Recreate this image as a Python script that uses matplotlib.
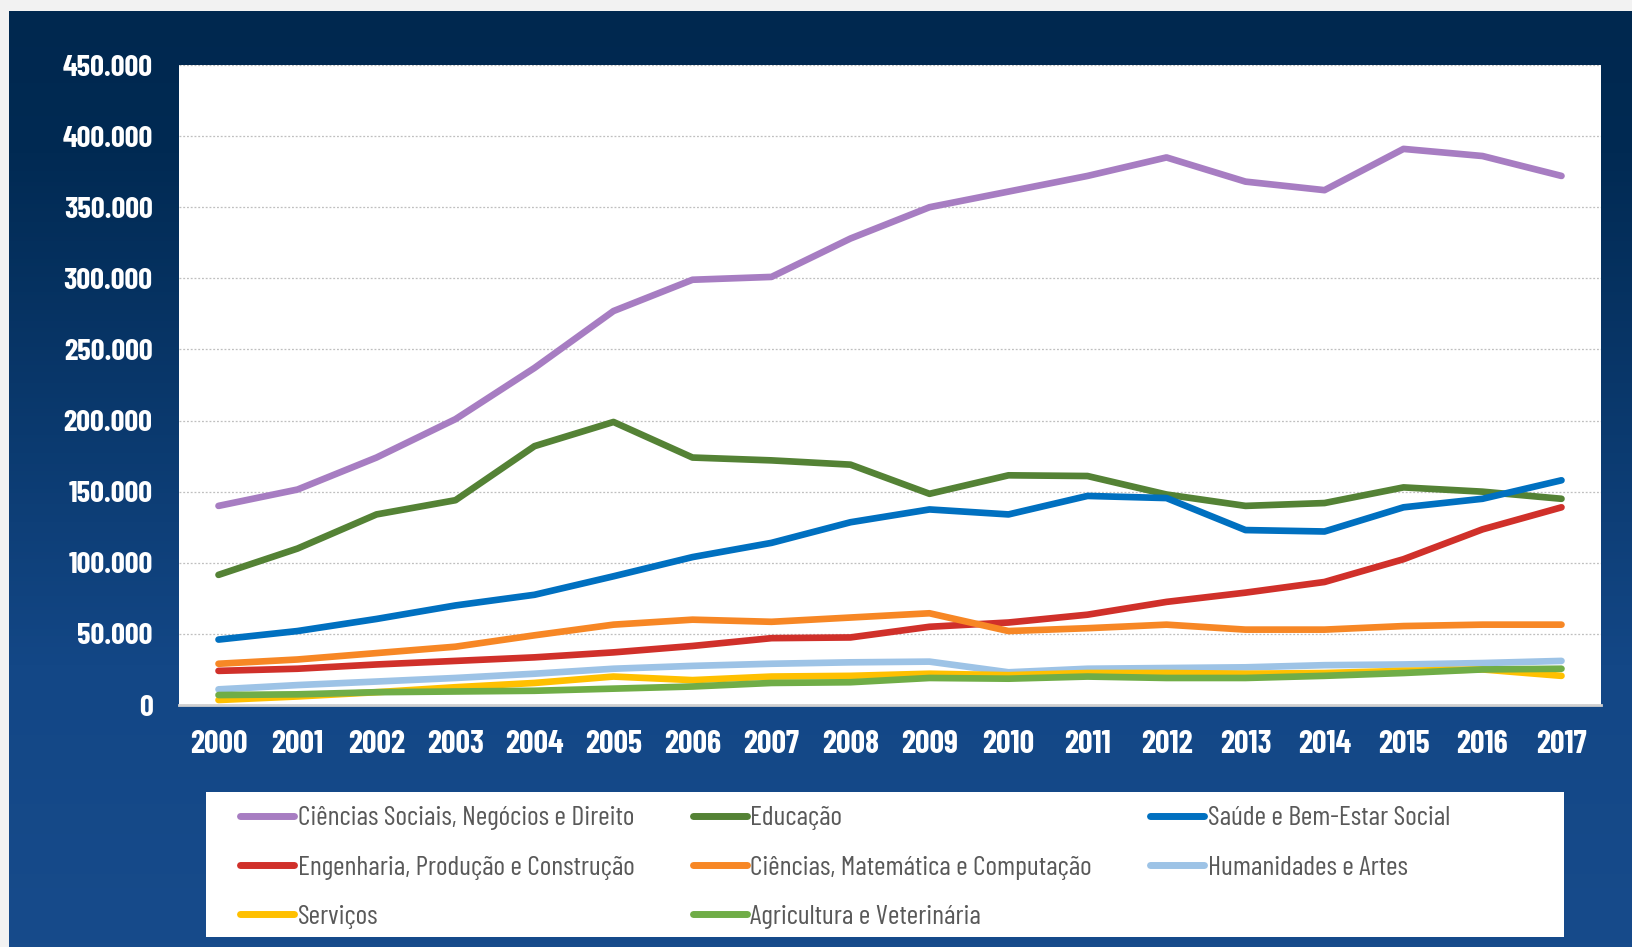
import matplotlib.pyplot as plt
import numpy as np
from matplotlib.colors import LinearSegmentedColormap
from matplotlib.patches import Rectangle
from matplotlib.ticker import FuncFormatter

# data
anos = [str(a) for a in range(2000, 2018)]

ciencias_sociais = [140000, 151500, 174000, 201000, 237000, 277000, 299000, 301000, 328000,
                    350000, 361000, 372000, 385000, 368000, 362000, 391000, 386000, 372000]
educacao = [91500, 110000, 134000, 144000, 182000, 199000, 174000, 172000, 169000,
            148500, 161500, 161000, 148000, 140000, 142000, 153000, 150000, 145000]
saude = [46000, 52000, 60500, 70000, 77500, 90500, 104000, 114000, 128500,
         137500, 134000, 147000, 145500, 123000, 122000, 139000, 145000, 158000]
engenharia = [24000, 25500, 28500, 31000, 33500, 37000, 41500, 47000, 47500,
              55000, 58000, 63500, 72500, 79000, 86500, 102500, 123500, 139000]
ciencias_mat = [29000, 32000, 36500, 41000, 49000, 56500, 60000, 58500, 61500,
                64500, 52000, 54000, 56500, 53000, 53000, 55500, 56500, 56500]
humanidades = [11000, 14000, 16500, 19000, 22000, 25500, 27500, 29000, 30000,
               30500, 23000, 25500, 26000, 26500, 28000, 28500, 29500, 31000]
servicos = [3500, 6000, 9000, 12500, 15500, 20000, 17500, 20000, 20500,
            22000, 21000, 22500, 22500, 22000, 22500, 24000, 25000, 20500]
agricultura = [7000, 7500, 9000, 9500, 10000, 11500, 13000, 15500, 16000,
               19000, 18500, 20000, 19000, 19000, 20500, 22500, 25000, 25500]

series = [
    ("Ciências Sociais, Negócios e Direito", ciencias_sociais, "#a77dc2"),
    ("Educação", educacao, "#548235"),
    ("Saúde e Bem-Estar Social", saude, "#0070c0"),
    ("Engenharia, Produção e Construção", engenharia, "#d0302a"),
    ("Ciências, Matemática e Computação", ciencias_mat, "#f78725"),
    ("Humanidades e Artes", humanidades, "#9dc3e6"),
    ("Serviços", servicos, "#ffc000"),
    ("Agricultura e Veterinária", agricultura, "#70ad47"),
]

fonte = ["Barlow Condensed", "Roboto Condensed", "DejaVu Sans"]

fig = plt.figure(figsize=(16.33, 9.47), dpi=100)
fig.patch.set_facecolor("#f2f2f2")

# gradient background panel
bg = fig.add_axes([9 / 1633, 0, 1 - 9 / 1633, 1 - 11 / 947], zorder=0)
cmap = LinearSegmentedColormap.from_list(
    "fundo", [(0.0, "#00284f"), (0.15, "#012a53"), (0.7, "#134786"), (1.0, "#174b8b")])
bg.imshow(np.linspace(0, 1, 256).reshape(-1, 1), aspect="auto", cmap=cmap,
          extent=[0, 1, 0, 1], origin="upper")
bg.set_axis_off()

# legend box
fig.patches.append(Rectangle((206 / 1633, 10 / 947), 1358 / 1633, 145 / 947,
                             transform=fig.transFigure, facecolor="white",
                             edgecolor="none", zorder=1))

ax = fig.add_axes([179 / 1633, 1 - 705 / 947, 1422 / 1633, 640 / 947], zorder=2)
ax.set_facecolor("white")

x = np.arange(len(anos))
linhas = []
for nome, valores, cor in series:
    (ln,) = ax.plot(x, valores, color=cor, lw=4.8, solid_capstyle="round",
                    solid_joinstyle="round", label=nome)
    linhas.append(ln)

ax.set_xlim(-0.5, len(anos) - 0.5)
ax.set_ylim(0, 450000)
ax.set_yticks(np.arange(0, 450001, 50000))
ax.yaxis.set_major_formatter(FuncFormatter(lambda v, p: f"{int(v):,}".replace(",", ".")))
ax.set_xticks(x)
ax.set_xticklabels(anos)

ax.grid(axis="y", color="#bfbfbf", linestyle=(0, (1.5, 1.5)), lw=0.9)
ax.set_axisbelow(True)
for s in ["top", "right", "left"]:
    ax.spines[s].set_visible(False)
ax.spines["bottom"].set_color("#cfcfcf")
ax.spines["bottom"].set_linewidth(2)

ax.tick_params(length=0, colors="white")
ax.tick_params(axis="y", pad=19)
ax.tick_params(axis="x", pad=18)
for lab in ax.get_xticklabels():
    lab.set_fontfamily(fonte)
    lab.set_fontweight("bold")
    lab.set_fontsize(23)
for lab in ax.get_yticklabels():
    lab.set_fontfamily(fonte)
    lab.set_fontweight("bold")
    lab.set_fontsize(22)

# legend filled row by row like the original
ordem = [0, 3, 6, 1, 4, 7, 2, 5]
leg = fig.legend([linhas[i] for i in ordem], [series[i][0] for i in ordem],
                 ncol=3, loc="center", mode="expand",
                 bbox_to_anchor=(240 / 1633, 7 / 947, 1210 / 1633, 145 / 947),
                 frameon=False, borderaxespad=0, borderpad=0,
                 handlelength=1.95, handletextpad=0.12, labelspacing=0.9,
                 prop={"family": fonte, "size": 20})
for t in leg.get_texts():
    t.set_color("#595959")
for h in leg.legend_handles:
    h.set_linewidth(5)
leg.set_zorder(3)

fig.savefig("out.png", dpi=100, facecolor=fig.get_facecolor())
